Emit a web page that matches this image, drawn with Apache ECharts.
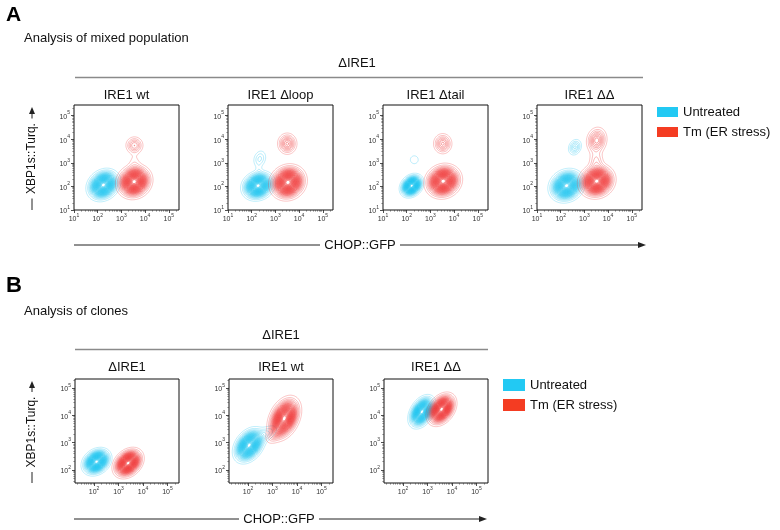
<!DOCTYPE html>
<html><head><meta charset="utf-8">
<script src="https://cdn.jsdelivr.net/npm/echarts@6/dist/echarts.min.js"></script>
<style>html,body{margin:0;padding:0;background:#fff}#c{width:780px;height:530px}</style>
</head><body><div id="c"></div><script>
// ---------- chart content ----------
const sectionLetters = ['A', 'B'];
const sectionSubtitles = ['Analysis of mixed population', 'Analysis of clones'];
const groupTitle = 'ΔIRE1';
const panelTitlesA = ['IRE1 wt', 'IRE1 Δloop', 'IRE1 Δtail', 'IRE1 ΔΔ'];
const panelTitlesB = ['ΔIRE1', 'IRE1 wt', 'IRE1 ΔΔ'];
const xAxisName = 'CHOP::GFP';
const yAxisName = 'XBP1s::Turq.';
const legendNames = ['Untreated', 'Tm (ER stress)'];
const decadesA = [1, 2, 3, 4, 5];       // tick labels 10^1 .. 10^5
const decadesB = [2, 3, 4, 5];
const rangeAx = [1, 5.43], rangeAy = [1, 5.45];       // log10 axis extents
const rangeBx = [1.22, 5.47], rangeBy = [1.52, 5.33];
// populations:
// [log10 CHOP::GFP, log10 XBP1s::Turq., spread x (decades), spread y (decades), correlation, relative peak]
const untreatedA = [
  [[2.24, 2.06, 0.28, 0.27, 0.2, 1]],
  [[2.27, 2.03, 0.28, 0.25, 0.15, 1], [2.34, 3.17, 0.16, 0.21, 0.2, 0.1], [2.3, 2.6, 0.08, 0.22, 0, 0.035]],
  [[2.21, 2.03, 0.2, 0.2, 0.25, 1], [2.32, 3.13, 0.15, 0.15, 0, 0.055]],
  [[2.25, 2.03, 0.3, 0.28, 0.15, 1], [2.6, 3.66, 0.15, 0.18, 0.2, 0.16]]
];
const tmA = [
  [[3.54, 2.2, 0.3, 0.29, 0.1, 1], [3.55, 3.74, 0.19, 0.19, 0, 0.18], [3.55, 2.95, 0.15, 0.3, 0, 0.045]],
  [[3.53, 2.17, 0.31, 0.3, 0.1, 1], [3.5, 3.81, 0.2, 0.22, 0, 0.25]],
  [[3.54, 2.22, 0.31, 0.29, 0.1, 1], [3.52, 3.81, 0.195, 0.215, 0, 0.22]],
  [[3.52, 2.22, 0.31, 0.29, 0.1, 1], [3.52, 3.95, 0.21, 0.27, 0.1, 0.26], [3.5, 3.05, 0.17, 0.3, 0, 0.1]]
];
const untreatedB = [
  [[2.1, 2.3, 0.24, 0.2, 0.25, 1]],
  [[2.04, 2.9, 0.26, 0.26, 0.35, 1], [2.7, 3.3, 0.3, 0.2, 0.6, 0.1]],
  [[2.77, 4.13, 0.22, 0.24, 0.4, 1]]
];
const tmB = [
  [[3.39, 2.25, 0.25, 0.22, 0.3, 1]],
  [[3.48, 3.89, 0.27, 0.32, 0.35, 1], [3.1, 3.35, 0.2, 0.2, 0.5, 0.12]],
  [[3.57, 4.22, 0.24, 0.24, 0.35, 1]]
];

// ---------- styling / layout ----------
const FONT = '"Liberation Sans", Arial, Helvetica, sans-serif';
const CYAN = '#17c2ef', RED = '#ef2f30';
const LEG_CYAN = '#22c9f3', LEG_RED = '#f43c22';
const NLEV = 32;
const gridsA = [74, 228, 383, 537].map(l => ({left: l, top: 105, width: 105, height: 105}));
const gridsB = [75, 229, 384].map(l => ({left: l, top: 379, width: 104, height: 104}));

// ---------- contour machinery ----------
function density(pops, xr, yr, n) {
  const xs = [], ys = [];
  for (let i = 0; i <= n; i++) { xs.push(xr[0] + (xr[1] - xr[0]) * i / n); ys.push(yr[0] + (yr[1] - yr[0]) * i / n); }
  const v = [];
  let mx = 0;
  for (let j = 0; j <= n; j++) {
    const row = [];
    for (let i = 0; i <= n; i++) {
      let s = 0;
      for (const p of pops) {
        const dx = (xs[i] - p[0]) / p[2], dy = (ys[j] - p[1]) / p[3], r = p[4];
        const q = (dx * dx - 2 * r * dx * dy + dy * dy) / (1 - r * r);
        s += p[5] * Math.exp(-0.5 * q);
      }
      row.push(s); if (s > mx) mx = s;
    }
    v.push(row);
  }
  return {xs, ys, v, mx};
}
function contourLines(v, xs, ys, level) {
  const pts = new Map(), adj = new Map();
  const hp = (i, j) => { const k = 'h' + i + '_' + j; if (!pts.has(k)) { const a = v[j][i], b = v[j][i + 1], t = (level - a) / (b - a); pts.set(k, [xs[i] + t * (xs[i + 1] - xs[i]), ys[j]]); } return k; };
  const vp = (i, j) => { const k = 'v' + i + '_' + j; if (!pts.has(k)) { const a = v[j][i], b = v[j + 1][i], t = (level - a) / (b - a); pts.set(k, [xs[i], ys[j] + t * (ys[j + 1] - ys[j])]); } return k; };
  const link = (a, b) => { if (!adj.has(a)) adj.set(a, []); if (!adj.has(b)) adj.set(b, []); adj.get(a).push(b); adj.get(b).push(a); };
  for (let j = 0; j < ys.length - 1; j++) for (let i = 0; i < xs.length - 1; i++) {
    const a = v[j][i] >= level, b = v[j][i + 1] >= level, c = v[j + 1][i + 1] >= level, d = v[j + 1][i] >= level;
    const idx = (a ? 1 : 0) | (b ? 2 : 0) | (c ? 4 : 0) | (d ? 8 : 0);
    if (idx === 0 || idx === 15) continue;
    const B = () => hp(i, j), T = () => hp(i, j + 1), L = () => vp(i, j), R = () => vp(i + 1, j);
    switch (idx) {
      case 1: case 14: link(L(), B()); break;
      case 2: case 13: link(B(), R()); break;
      case 3: case 12: link(L(), R()); break;
      case 4: case 11: link(R(), T()); break;
      case 6: case 9: link(B(), T()); break;
      case 7: case 8: link(L(), T()); break;
      case 5: case 10: {
        const cen = (v[j][i] + v[j][i + 1] + v[j + 1][i + 1] + v[j + 1][i]) / 4 >= level;
        if ((idx === 5) === cen) { link(L(), T()); link(B(), R()); } else { link(L(), B()); link(R(), T()); }
      }
    }
  }
  const visited = new Set(), chains = [];
  const walk = (start) => {
    const chain = [pts.get(start)]; visited.add(start); let cur = start;
    while (true) {
      const nb = adj.get(cur).filter(n => !visited.has(n));
      if (!nb.length) { if (chain.length > 2 && adj.get(cur).includes(start)) chain.push(pts.get(start)); break; }
      cur = nb[0]; visited.add(cur); chain.push(pts.get(cur));
    }
    return chain;
  };
  for (const [k, n] of adj) if (n.length === 1 && !visited.has(k)) chains.push(walk(k));
  for (const k of adj.keys()) if (!visited.has(k)) chains.push(walk(k));
  return chains;
}
function contourSeries(pops, xr, yr, gi, color) {
  const d = density(pops, xr, yr, 160);
  const items = [];
  for (let k = 0; k < NLEV; k++) {
    const lev = d.mx * (0.03 + 0.03 * k);
    const op = 0.5 + 0.5 * Math.min(1, k / 8);
    for (const ch of contourLines(d.v, d.xs, d.ys, lev)) items.push({pts: ch, op});
  }
  return {
    type: 'custom', xAxisIndex: gi * 2, yAxisIndex: gi * 2, silent: true, animation: false, clip: true,
    encode: {x: 0, y: 1},
    data: items.map(it => [it.pts[0][0], it.pts[0][1]]),
    renderItem: (params, api) => {
      const it = items[params.dataIndex];
      return {type: 'polyline', silent: true,
        shape: {points: it.pts.map(p => api.coord(p))},
        style: {stroke: color, fill: 'none', lineWidth: 0.55, opacity: it.op}};
    }
  };
}

// ---------- axes ----------
const labelFmt = v => '{a|10}{b|' + Math.round(v) + '}';
const rich = {a: {fontSize: 7, fontFamily: FONT, color: '#333', lineHeight: 10, verticalAlign: 'bottom'},
              b: {fontSize: 5, fontFamily: FONT, color: '#333', lineHeight: 6, verticalAlign: 'top'}};
function minorVals(r) {
  const out = [];
  for (let d = Math.floor(r[0]); d < r[1]; d++) for (let k = 2; k <= 9; k++) { const t = d + Math.log10(k); if (t > r[0] && t < r[1]) out.push(t); }
  return out;
}
function axisPair(gi, r, decades, pos) {
  const base = {type: 'value', gridIndex: gi, min: r[0], max: r[1], position: pos,
    axisLine: {show: false}, splitLine: {show: false}};
  return [
    Object.assign({}, base, {
      axisTick: {show: true, length: 3, customValues: decades, lineStyle: {color: '#222', width: 0.8}},
      axisLabel: {show: true, customValues: decades, formatter: labelFmt, rich: rich, margin: pos === 'left' ? 4 : 3}
    }),
    Object.assign({}, base, {
      axisTick: {show: true, length: 1.6, customValues: minorVals(r), lineStyle: {color: '#444', width: 0.6}},
      axisLabel: {show: false}
    })
  ];
}

const grids = [], xAxes = [], yAxes = [], series = [];
const panels = [];
gridsA.forEach((g, i) => panels.push({g, xr: rangeAx, yr: rangeAy, dec: decadesA, cy: untreatedA[i], rd: tmA[i]}));
gridsB.forEach((g, i) => panels.push({g, xr: rangeBx, yr: rangeBy, dec: decadesB, cy: untreatedB[i], rd: tmB[i]}));
panels.forEach((p, gi) => {
  grids.push(Object.assign({show: true, borderColor: '#111', borderWidth: 1, backgroundColor: '#fff'}, p.g));
  xAxes.push(...axisPair(gi, p.xr, p.dec, 'bottom'));
  yAxes.push(...axisPair(gi, p.yr, p.dec, 'left'));
  series.push(contourSeries(p.cy, p.xr, p.yr, gi, CYAN));
  series.push(contourSeries(p.rd, p.xr, p.yr, gi, RED));
});

// ---------- annotations ----------
const G = [];
function text(t, x, y, size, o) {
  o = o || {};
  G.push({type: 'text', x: x, y: y, rotation: o.rot || 0, silent: true,
    style: {text: t, x: 0, y: 0, font: (o.bold ? 'bold ' : '') + size + 'px ' + FONT, fill: o.color || '#111',
      align: o.align || 'center', verticalAlign: 'middle', textAlign: o.align || 'center', textVerticalAlign: 'middle'}});
}
function line(x1, y1, x2, y2, color, w) {
  G.push({type: 'line', silent: true, shape: {x1, y1, x2, y2}, style: {stroke: color, lineWidth: w}});
}
function poly(points, color) { G.push({type: 'polygon', silent: true, shape: {points}, style: {fill: color}}); }

// section A
text(sectionLetters[0], 6, 15.5, 21, {bold: true, align: 'left', color: '#000'});
text(sectionSubtitles[0], 24, 38.5, 13, {align: 'left'});
text(groupTitle, 357, 63.5, 13);
line(75, 77.5, 643, 77.5, '#8a8a8a', 1.5);
gridsA.forEach((g, i) => text(panelTitlesA[i], g.left + g.width / 2, 95, 13));
// section B
text(sectionLetters[1], 6, 286, 22, {bold: true, align: 'left', color: '#000'});
text(sectionSubtitles[1], 24, 311, 13, {align: 'left'});
text(groupTitle, 281, 335, 13);
line(75, 349.5, 488, 349.5, '#8a8a8a', 1.5);
gridsB.forEach((g, i) => text(panelTitlesB[i], g.left + g.width / 2, 367, 13));

// y axis names with arrows
function yName(top, bottom) {
  const cx = 32, mid = (top + bottom) / 2, half = 36;
  text(yAxisName, cx, mid, 12, {rot: Math.PI / 2});
  line(cx, bottom, cx, mid + half + 4, '#222', 1);
  line(cx, mid - half - 4, cx, top + 6, '#222', 1);
  poly([[cx, top], [cx - 3, top + 7], [cx + 3, top + 7]], '#222');
}
yName(107, 210);
yName(381, 483);
// x axis names with arrows
function xName(y, x0, tc, x1) {
  const half = 37;
  text(xAxisName, tc, y, 13);
  line(x0, y, tc - half - 3, y, '#222', 1);
  line(tc + half + 3, y, x1 - 6, y, '#222', 1);
  poly([[x1, y], [x1 - 8, y - 3], [x1 - 8, y + 3]], '#222');
}
xName(245, 74, 360, 646);
xName(519, 74, 279, 487);
// legends
function legend(x, y1, y2, w, h) {
  G.push({type: 'rect', silent: true, shape: {x, y: y1, width: w, height: h}, style: {fill: LEG_CYAN}});
  G.push({type: 'rect', silent: true, shape: {x, y: y2, width: w, height: h}, style: {fill: LEG_RED}});
  text(legendNames[0], x + w + 5, y1 + h / 2, 13, {align: 'left'});
  text(legendNames[1], x + w + 5, y2 + h / 2, 13, {align: 'left'});
}
legend(657, 107, 127, 21, 10);
legend(503, 379, 399, 22, 12);

const chart = echarts.init(document.getElementById('c'), null, {renderer: 'canvas'});
chart.setOption({
  backgroundColor: '#fff', animation: false,
  grid: grids, xAxis: xAxes, yAxis: yAxes, series: series, graphic: {elements: G}
});
</script></body></html>
